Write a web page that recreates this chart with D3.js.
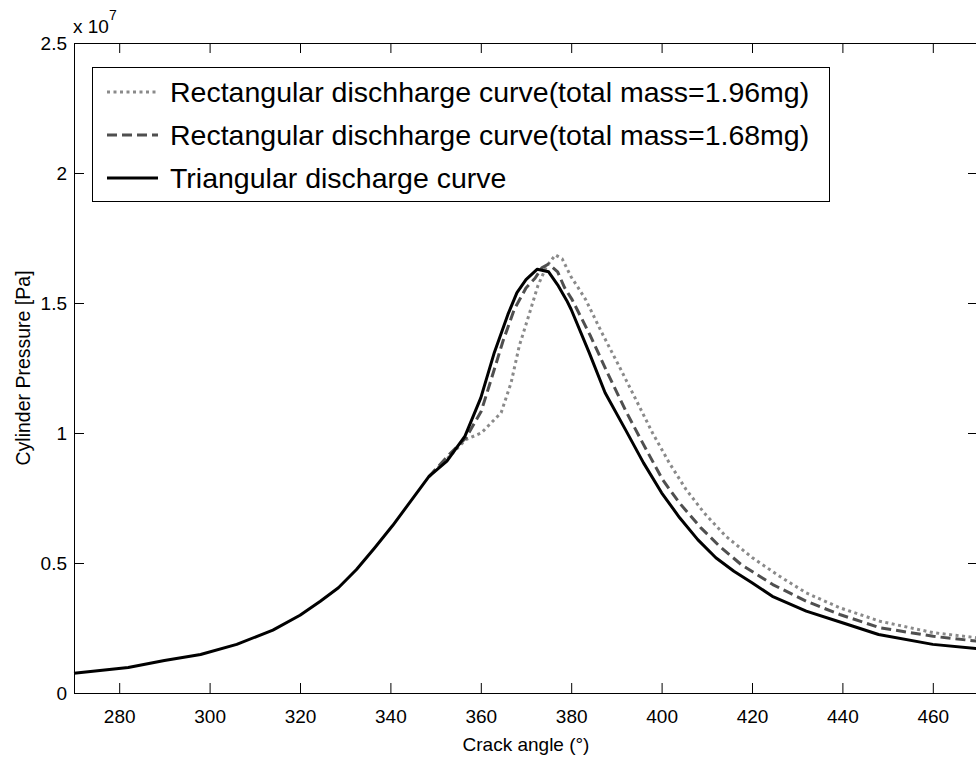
<!DOCTYPE html>
<html>
	<head>
		<title>Cylinder pressure</title>
		<script src="https://d3js.org/d3.v7.min.js"></script>

		<style>
			body {
			  margin: 0;
			  background: #fff;
			}

			text {
			  font-family: "Liberation Sans", Arial, Helvetica, sans-serif;
			  fill: black;
			}

			.axis path, .axis line {
			  stroke: black;
			  stroke-width: 1px;
			}

			.axis text {
			  font-size: 19px;
			}

			.curve {
			  fill: none;
			  stroke-linejoin: round;
			}
		</style>
	</head>

	<body>

		<svg width="976" height="761"></svg>

		<script type="text/javascript">
			// values, pressure in units of 10^7 Pa
			var angleRect196 = [348.5, 352.5, 356.7, 360.1, 364.5, 366.7, 368.5, 370.8, 372.6, 374.5, 376.5, 378, 380, 381.5, 383.2, 386.8, 390.6, 394.3, 398, 401.7, 405.4, 409.4, 414.2, 420.1, 426.1, 432, 439.4, 448.3, 460.1, 470];
			var pressRect196 = [0.832, 0.90, 0.975, 1.0, 1.078, 1.193, 1.334, 1.462, 1.565, 1.64, 1.685, 1.67, 1.6, 1.56, 1.513, 1.385, 1.257, 1.129, 1.0, 0.885, 0.783, 0.693, 0.603, 0.52, 0.449, 0.385, 0.328, 0.276, 0.232, 0.212];

			var angleRect168 = [348.5, 353, 356.7, 360.1, 362.3, 364.9, 367.4, 370, 372, 373.5, 375, 377, 378.5, 380.2, 384.3, 388, 392.1, 395.8, 400.2, 403.9, 408.7, 412.8, 417.6, 424.6, 432, 439.4, 448.3, 460.1, 470];
			var pressRect168 = [0.832, 0.917, 0.981, 1.084, 1.206, 1.353, 1.475, 1.558, 1.595, 1.635, 1.65, 1.62, 1.56, 1.513, 1.372, 1.232, 1.084, 0.962, 0.821, 0.732, 0.635, 0.565, 0.494, 0.417, 0.353, 0.302, 0.251, 0.218, 0.199];

			var angleTri = [270, 282, 290, 298, 306, 314, 320, 324.5, 328.5, 332.5, 336.5, 340.5, 344.5, 348.5, 352.5, 356.5, 360, 363, 366, 368, 370, 372.5, 375, 377, 379, 380, 384, 387.5, 392, 396, 400, 404, 408, 412, 416, 420, 424.5, 432, 440, 448, 460, 470];
			var pressTri = [0.076, 0.098, 0.125, 0.148, 0.187, 0.242, 0.299, 0.353, 0.405, 0.475, 0.558, 0.644, 0.738, 0.832, 0.892, 0.988, 1.135, 1.31, 1.456, 1.54, 1.59, 1.63, 1.62, 1.57, 1.51, 1.475, 1.308, 1.155, 1.013, 0.885, 0.77, 0.674, 0.59, 0.52, 0.468, 0.424, 0.372, 0.315, 0.27, 0.225, 0.187, 0.17];

			var seriesNames = [
			  'Rectangular dischharge curve(total mass=1.96mg)',
			  'Rectangular dischharge curve(total mass=1.68mg)',
			  'Triangular discharge curve'
			];

			var xTicks = [280, 300, 320, 340, 360, 380, 400, 420, 440, 460];
			var yTicks = [0, 0.5, 1, 1.5, 2, 2.5];
			var yTickLabels = ['0', '0.5', '1', '1.5', '2', '2.5'];

			// plot box (top would clash with window.top)
			var boxL = 74, boxR = 978, boxT = 43, boxB = 693;

			var x = d3.scaleLinear().domain([270, 470]).range([boxL, boxR]);
			var y = d3.scaleLinear().domain([0, 2.5]).range([boxB, boxT]);

			var svg = d3.select('svg');

			var series = [
			  {name: seriesNames[0], angle: angleRect196, p: pressRect196, color: '#8a8a8a', width: 3, dash: '3,3.5'},
			  {name: seriesNames[1], angle: angleRect168, p: pressRect168, color: '#4f4f4f', width: 3, dash: '10,5'},
			  {name: seriesNames[2], angle: angleTri, p: pressTri, color: '#000', width: 3, dash: null}
			];

			var line = d3.line()
			  .x(function(d) { return x(d[0]); })
			  .y(function(d) { return y(d[1]); });

			svg.append('g').selectAll('path')
			  .data(series)
			  .enter()
			  .append('path')
			  .classed('curve', true)
			  .attr('stroke', function(d) { return d.color; })
			  .attr('stroke-width', function(d) { return d.width; })
			  .attr('stroke-dasharray', function(d) { return d.dash; })
			  .attr('d', function(d) {
			    return line(d.angle.map(function(a, i) { return [a, d.p[i]]; }));
			  });

			// axes, ticks point inward on all four sides
			svg.append('g')
			  .attr('class', 'axis')
			  .attr('transform', 'translate(0,' + boxB + ')')
			  .call(d3.axisBottom(x).tickValues(xTicks).tickSizeInner(-10).tickSizeOuter(0).tickPadding(17));

			svg.append('g')
			  .attr('class', 'axis')
			  .attr('transform', 'translate(0,' + boxT + ')')
			  .call(d3.axisTop(x).tickValues(xTicks).tickSizeInner(-10).tickSizeOuter(0).tickFormat(''));

			svg.append('g')
			  .attr('class', 'axis')
			  .attr('transform', 'translate(' + boxL + ',0)')
			  .call(d3.axisLeft(y).tickValues(yTicks).tickSizeInner(-10).tickSizeOuter(0).tickPadding(7)
			    .tickFormat(function(d, i) { return yTickLabels[i]; }));

			svg.append('g')
			  .attr('class', 'axis')
			  .attr('transform', 'translate(' + boxR + ',0)')
			  .call(d3.axisRight(y).tickValues(yTicks).tickSizeInner(-10).tickSizeOuter(0).tickFormat(''));

			svg.selectAll('.axis .domain').attr('shape-rendering', 'crispEdges');

			// exponent label
			var expo = svg.append('text')
			  .attr('x', 73)
			  .attr('y', 33)
			  .style('font-size', '19px');
			expo.append('tspan').text('x 10');
			expo.append('tspan').attr('dy', -13).style('font-size', '14px').text('7');

			svg.append('text')
			  .attr('x', (boxL + boxR) / 2)
			  .attr('y', 751)
			  .attr('text-anchor', 'middle')
			  .style('font-size', '19px')
			  .text('Crack angle (°)');

			svg.append('text')
			  .attr('transform', 'translate(30,' + y(1.25) + ') rotate(-90)')
			  .attr('text-anchor', 'middle')
			  .style('font-size', '19.5px')
			  .text('Cylinder Pressure [Pa]');

			// legend
			var legend = svg.append('g');
			legend.append('rect')
			  .attr('x', 92.5)
			  .attr('y', 67.5)
			  .attr('width', 737)
			  .attr('height', 134)
			  .attr('fill', 'white')
			  .attr('stroke', 'black')
			  .attr('stroke-width', 1);

			var rows = legend.selectAll('g.row')
			  .data(series)
			  .enter()
			  .append('g')
			  .attr('class', 'row')
			  .attr('transform', function(d, i) { return 'translate(0,' + (92 + i * 43) + ')'; });

			rows.append('line')
			  .attr('x1', 107)
			  .attr('x2', 158)
			  .attr('stroke', function(d) { return d.color; })
			  .attr('stroke-width', function(d) { return d.width; })
			  .attr('stroke-dasharray', function(d) { return d.dash; });

			rows.append('text')
			  .attr('x', 170)
			  .attr('dy', '0.36em')
			  .style('font-size', '28.5px')
			  .text(function(d) { return d.name; });
		</script>

	</body>
</html>
